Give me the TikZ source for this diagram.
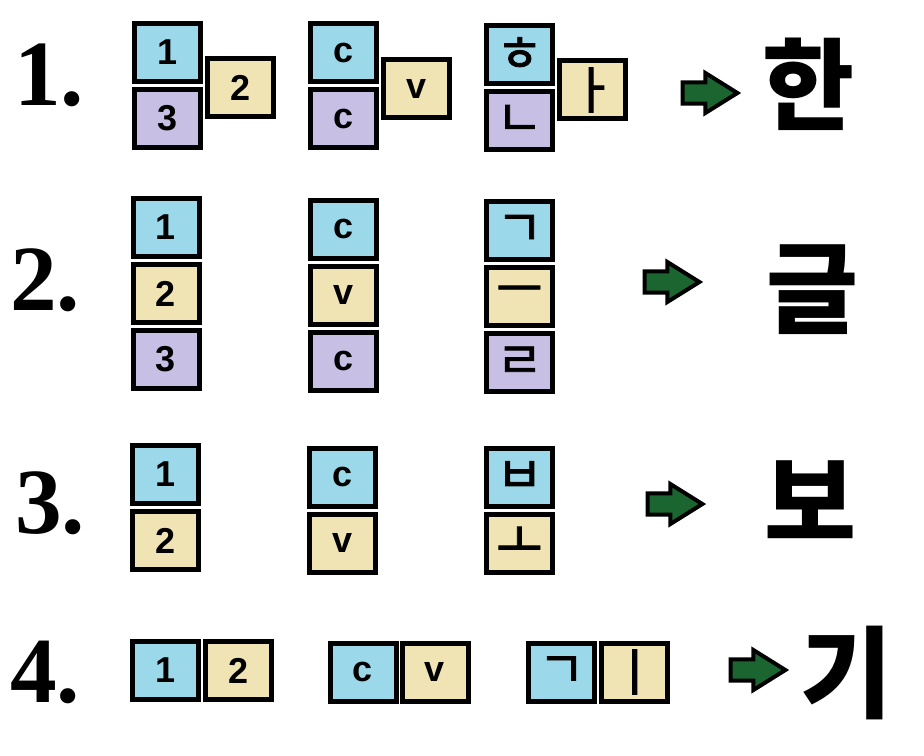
\documentclass[tikz,border=0pt]{standalone}
\usepackage{fontspec}
\setmainfont{Liberation Serif}
\newfontfamily\boxfont{Liberation Sans}
\newfontfamily\hangul{Noto Sans CJK KR}
\newfontfamily\jamofont{Noto Sans CJK KR}[FakeBold=1.6]
\usetikzlibrary{positioning,shapes.arrows}

\definecolor{cyanbox}{RGB}{155,217,234}
\definecolor{sandbox}{RGB}{240,228,180}
\definecolor{lilacbox}{RGB}{200,192,228}
\definecolor{arrowgreen}{RGB}{27,102,48}

\tikzset{
	blk/.style={draw, line width=3.75pt, minimum width=49.5pt, minimum height=43.5pt, inner sep=0pt, font=\boxfont\bfseries\fontsize{27}{27}\selectfont},
	jamo/.style={blk, font=\jamofont\fontsize{38}{38}\selectfont},
	num/.style={anchor=base west, inner sep=0pt, font=\bfseries\fontsize{70}{70}\selectfont},
	syl/.style={inner sep=0pt, font=\hangul\bfseries\fontsize{75}{75}\selectfont},
	goarrow/.style={single arrow, draw, fill=arrowgreen, line width=3pt, inner sep=6.5pt, minimum height=41pt, minimum width=27pt, single arrow head extend=7pt, single arrow tip angle=64}
}

\begin{document}
\begin{tikzpicture}[x=0.75pt, y=-0.75pt]

	\useasboundingbox (0,0) rectangle (924,756);

	\node[num] (n1) at (14,106) {1.};
	\node[num] (n2) at (10,310) {2.};
	\node[num] (n3) at (15,533) {3.};
	\node[num] (n4) at (10,702) {4.};

	\node[blk, fill=cyanbox] (a1) at (167.5,52.5) {1};
	\node[blk, fill=lilacbox, below=2.25pt of a1] (a3) {3};
	\node[blk, fill=sandbox, anchor=west] at ([xshift=1.5pt, yshift=-3pt]a1.south east) (a2) {2};
	\node[blk, fill=cyanbox] (b1) at (343.5,53) {c};
	\node[blk, fill=lilacbox, below=2.25pt of b1] (b3) {c};
	\node[blk, fill=sandbox, anchor=west] at ([xshift=1.5pt, yshift=-3pt]b1.south east) (b2) {v};
	\node[jamo, fill=cyanbox] (c1) at (519.5,54.5) {ㅎ};
	\node[jamo, fill=lilacbox, below=2.25pt of c1] (c3) {ㄴ};
	\node[jamo, fill=sandbox, anchor=west] at ([xshift=1.5pt, yshift=-3pt]c1.south east) (c2) {ㅏ};
	\node[goarrow] (g1) at (701.5,93) {};
	\node[syl] (h1) at (808,84.5) {한};

	\node[blk, fill=cyanbox] (d1) at (166,227.5) {1};
	\node[blk, fill=sandbox, below=2.25pt of d1] (d2) {2};
	\node[blk, fill=lilacbox, below=2.25pt of d2] (d3) {3};
	\node[blk, fill=cyanbox] (e1) at (343.5,229) {c};
	\node[blk, fill=sandbox, below=2.25pt of e1] (e2) {v};
	\node[blk, fill=lilacbox, below=2.25pt of e2] (e3) {c};
	\node[jamo, fill=cyanbox] (f1) at (519.5,230.5) {ㄱ};
	\node[jamo, fill=sandbox, below=2.25pt of f1] (f2) {ㅡ};
	\node[jamo, fill=lilacbox, below=2.25pt of f2] (f3) {ㄹ};
	\node[goarrow] (g2) at (663.5,282) {};
	\node[syl] (h2) at (812,289.5) {글};

	\node[blk, fill=cyanbox] (i1) at (165.5,474.5) {1};
	\node[blk, fill=sandbox, below=2.25pt of i1] (i2) {2};
	\node[blk, fill=cyanbox] (j1) at (342.5,477) {c};
	\node[blk, fill=sandbox, below=2.25pt of j1] (j2) {v};
	\node[jamo, fill=cyanbox] (k1) at (519.5,477) {ㅂ};
	\node[jamo, fill=sandbox, below=2.25pt of k1] (k2) {ㅗ};
	\node[goarrow] (g3) at (666.5,504) {};
	\node[syl] (h3) at (810,500) {보};

	\node[blk, fill=cyanbox] (l1) at (165.5,670.5) {1};
	\node[blk, fill=sandbox, right=1.5pt of l1] (l2) {2};
	\node[blk, fill=cyanbox] (m1) at (363,672) {c};
	\node[blk, fill=sandbox, right=0.75pt of m1] (m2) {v};
	\node[jamo, fill=cyanbox] (o1) at (561.5,672) {ㄱ};
	\node[jamo, fill=sandbox, right=1.5pt of o1] (o2) {ㅣ};
	\node[goarrow] (g4) at (749.5,670) {};
	\node[syl] (h4) at (846,673) {기};

\end{tikzpicture}
\end{document}
